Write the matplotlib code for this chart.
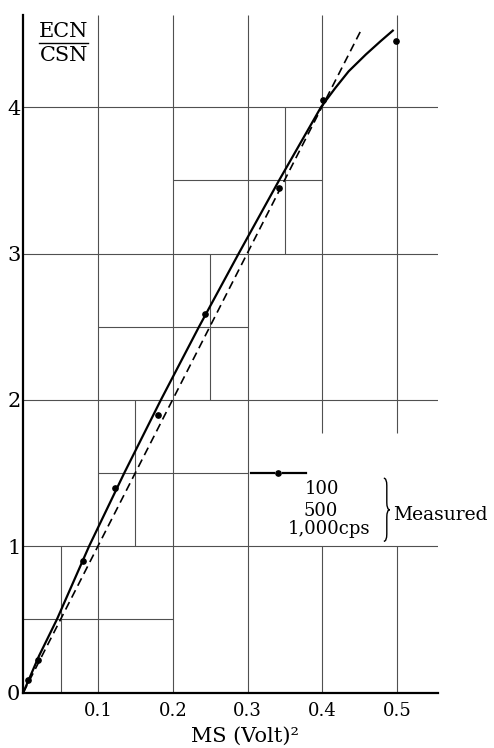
import matplotlib
matplotlib.use("Agg")
import matplotlib.pyplot as plt
from matplotlib.path import Path
from matplotlib.patches import PathPatch

plt.rcParams["font.family"] = ["DejaVu Serif"]

# measured points (100 / 500 / 1,000 cps)
ms_meas = [0.0068, 0.0193, 0.0793, 0.1223, 0.1796, 0.2426, 0.342, 0.4007, 0.498]
ratio_meas = [0.084, 0.222, 0.90, 1.395, 1.898, 2.59, 3.45, 4.048, 4.45]

# solid curve
ms_curve = [0, 0.021, 0.045, 0.088, 0.135, 0.184, 0.235, 0.288, 0.342, 0.398,
            0.417, 0.435, 0.458, 0.4775, 0.494]
ratio_curve = [0, 0.25, 0.5, 1.0, 1.5, 2.0, 2.5, 3.0, 3.5, 4.0,
               4.13, 4.245, 4.36, 4.45, 4.523]

# dashed straight line
ms_line = [0, 0.453]
ratio_line = [0, 4.54]

xticks = [0.1, 0.2, 0.3, 0.4, 0.5]
xtick_labels = ["0.1", "0.2", "0.3", "0.4", "0.5"]
yticks = [0, 1, 2, 3, 4]
legend_lines = ["100", "500", "1,000cps"]

XMAX, YMAX = 0.555, 4.63

fig = plt.figure(figsize=(4.94, 7.48), dpi=100)
ax = fig.add_axes([0.047, 0.074, 0.8405, 0.906])
ax.set_xlim(0, XMAX)
ax.set_ylim(0, YMAX)

gkw = dict(color="#505050", lw=0.8, zorder=1, solid_capstyle="butt")


def hseg(y, x0, x1):
    ax.plot([x0, x1], [y, y], **gkw)


def vseg(x, y0, y1):
    ax.plot([x, x], [y0, y1], **gkw)


for y in [1, 2, 3, 4]:
    hseg(y, 0, XMAX)
for x in [0.1, 0.2, 0.3]:
    vseg(x, 0, YMAX)
for x in [0.4, 0.5]:
    vseg(x, 0, 1)
    vseg(x, 1.775, YMAX)

# staircase of half-step lines
hseg(0.5, 0, 0.2)
vseg(0.05, 0, 1)
vseg(0.15, 1, 2)
hseg(1.5, 0.1, 0.3)
vseg(0.25, 2, 3)
hseg(2.5, 0.1, 0.3)
vseg(0.35, 3, 4)
hseg(3.5, 0.2, 0.4)

ax.plot(ms_line, ratio_line, color="black", lw=1.2, ls=(0, (5, 3)), zorder=3)
ax.plot(ms_curve, ratio_curve, color="black", lw=1.6, zorder=4,
        solid_joinstyle="round")
ax.plot(ms_meas, ratio_meas, "o", color="black", ms=3.8, zorder=5)

# legend drawn by hand
ax.plot([0.305, 0.335], [1.502, 1.502], color="black", lw=1.6, zorder=5)
ax.plot([0.347, 0.378], [1.502, 1.502], color="black", lw=1.6, zorder=5)
ax.plot([0.341], [1.502], "o", color="black", ms=3.8, zorder=5)
ax.text(0.399, 1.393, legend_lines[0], ha="center", va="center", fontsize=13)
ax.text(0.398, 1.240, legend_lines[1], ha="center", va="center", fontsize=13)
ax.text(0.4087, 1.116, legend_lines[2], ha="center", va="center", fontsize=13)

# curly brace
bx0, bx1, btop, bbot = 0.482, 0.490, 1.465, 1.034
bmid = (btop + bbot) / 2
bxm = (bx0 + bx1) / 2
verts = [(bx0, btop), (bxm, btop), (bxm, btop - 0.05),
         (bxm, bmid + 0.05),
         (bxm, bmid), (bx1, bmid),
         (bxm, bmid), (bxm, bmid - 0.05),
         (bxm, bbot + 0.05),
         (bxm, bbot), (bx0, bbot)]
codes = [Path.MOVETO, Path.CURVE3, Path.CURVE3,
         Path.LINETO,
         Path.CURVE3, Path.CURVE3,
         Path.CURVE3, Path.CURVE3,
         Path.LINETO,
         Path.CURVE3, Path.CURVE3]
ax.add_patch(PathPatch(Path(verts, codes), fill=False, lw=1.0,
                       color="black", clip_on=False))
ax.text(0.495, 1.216, "Measured", ha="left", va="center", fontsize=13.5,
        clip_on=False)

# y label as a fraction
ax.text(0.054, 4.518, "ECN", ha="center", va="center", fontsize=15)
ax.text(0.054, 4.351, "CSN", ha="center", va="center", fontsize=15)
ax.plot([0.021, 0.087], [4.437, 4.437], color="black", lw=1.0)

ax.set_xticks(xticks)
ax.set_xticklabels(xtick_labels)
ax.set_yticks(yticks)
ax.tick_params(length=0)
ax.tick_params(axis="x", pad=7, labelsize=13)
ax.tick_params(axis="y", pad=2, labelsize=15)
ax.set_xlabel("MS (Volt)²", fontsize=15)
ax.xaxis.set_label_coords(0.535, -0.05)

ax.spines["top"].set_visible(False)
ax.spines["right"].set_visible(False)
ax.spines["left"].set_linewidth(1.6)
ax.spines["bottom"].set_linewidth(1.6)

fig.savefig("out.png", dpi=100)
